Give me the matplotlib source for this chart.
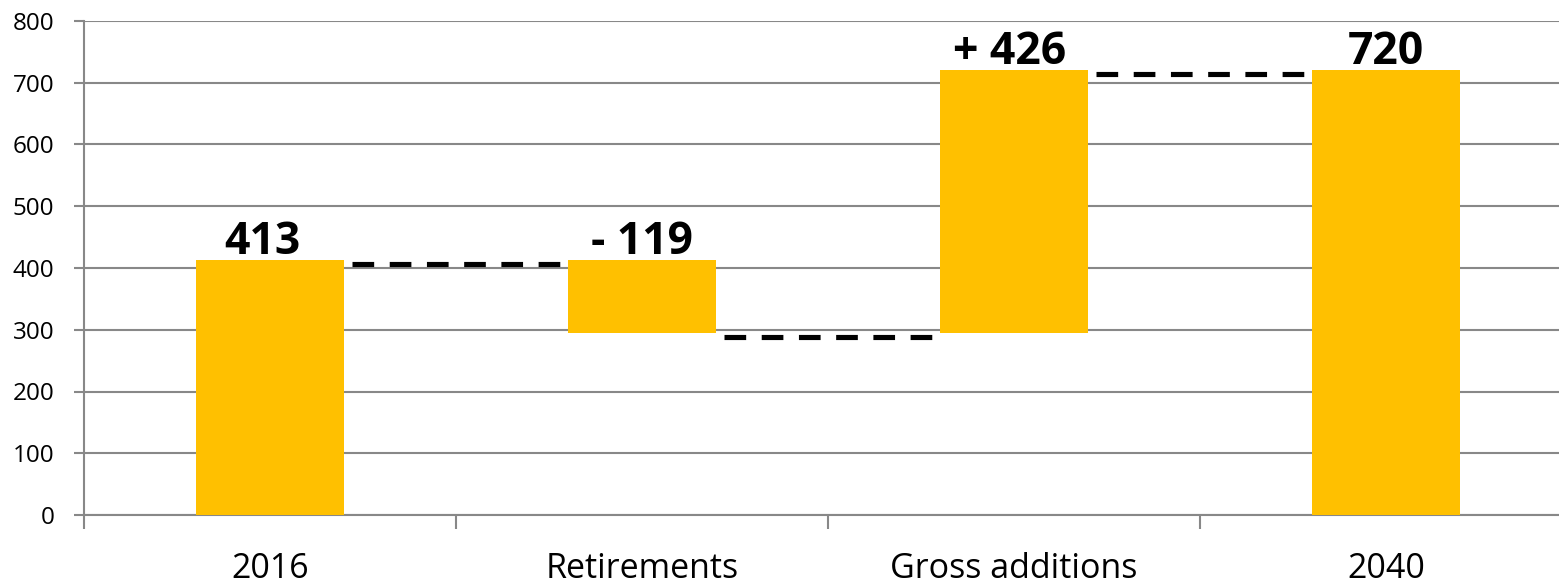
import matplotlib
matplotlib.use("Agg")
import matplotlib.pyplot as plt
import matplotlib.transforms as mtransforms

plt.rcParams['font.family'] = ['Open Sans', 'DejaVu Sans']

categories = ["2016", "Retirements", "Gross additions", "2040"]
start_value = 413
retirements = -119
gross_additions = 426
end_value = 720
value_labels = ["413", "- 119", "+ 426", "720"]

# waterfall segments: (bottom, top) for each column
level_after_ret = start_value + retirements
segments = [
    (0, start_value),
    (level_after_ret, start_value),
    (level_after_ret, level_after_ret + gross_additions),
    (0, end_value),
]
# running levels connecting consecutive columns
connector_levels = [start_value, level_after_ret, end_value]

BAR_COLOR = "#FFC000"
GRID_COLOR = "#888888"
bar_width = 0.4

W, H, DPI = 1559, 585, 100
fig = plt.figure(figsize=(W / DPI, H / DPI), dpi=DPI)
ax_left, ax_right = 84 / W, 1572 / W
ax_top, ax_bottom = 1 - 21 / H, 1 - 515 / H
ax = fig.add_axes([ax_left, ax_bottom, ax_right - ax_left, ax_top - ax_bottom])

xs = list(range(len(categories)))
bottoms = [b for b, t in segments]
heights = [t - b for b, t in segments]
ax.bar(xs, heights, bottom=bottoms, width=bar_width, color=BAR_COLOR, zorder=3)

# dashed connectors, nudged slightly below each level
gap = 8 / 372
dash_tr = mtransforms.offset_copy(ax.transData, fig=fig, x=0, y=-4, units='dots')
lw = 3.7
for i, lvl in enumerate(connector_levels):
    x0 = xs[i] + bar_width / 2 + gap
    x1 = xs[i + 1] - bar_width / 2 - gap
    ax.plot([x0, x1], [lvl, lvl], color="black", lw=lw,
            linestyle=(0, (15.6 / lw, 11.2 / lw)),
            dash_capstyle='butt', transform=dash_tr, zorder=4)

# value labels above each column
label_shift = [-8, 0, -4, 0]
for x, (b, t), txt, dx in zip(xs, segments, value_labels, label_shift):
    tr = mtransforms.offset_copy(ax.transData, fig=fig, x=dx, y=6, units='dots')
    ax.text(x, t, txt, ha='center', va='baseline', fontsize=32,
            fontweight='bold', color='black', transform=tr, zorder=5)

ax.set_xlim(-0.5, len(categories) - 0.5)
ax.set_ylim(0, 800)
ax.set_yticks(range(0, 801, 100))
ax.yaxis.grid(True, color=GRID_COLOR, linewidth=1.5)
ax.set_axisbelow(True)

ax.set_xticks(xs)
ax.set_xticklabels(categories, fontsize=24.5)
ax.set_xticks([x - 0.5 for x in xs], minor=True)
ax.tick_params(axis='x', which='major', length=0, pad=27)
ax.tick_params(axis='x', which='minor', length=10, width=1.5, color=GRID_COLOR)
ax.tick_params(axis='y', length=7.5, width=1.5, color=GRID_COLOR,
               labelsize=17.5, pad=14)

for side in ('top', 'right'):
    ax.spines[side].set_visible(False)
for side in ('left', 'bottom'):
    ax.spines[side].set_color(GRID_COLOR)
    ax.spines[side].set_linewidth(1.5)

fig.savefig("out.png", dpi=DPI, facecolor="white")
